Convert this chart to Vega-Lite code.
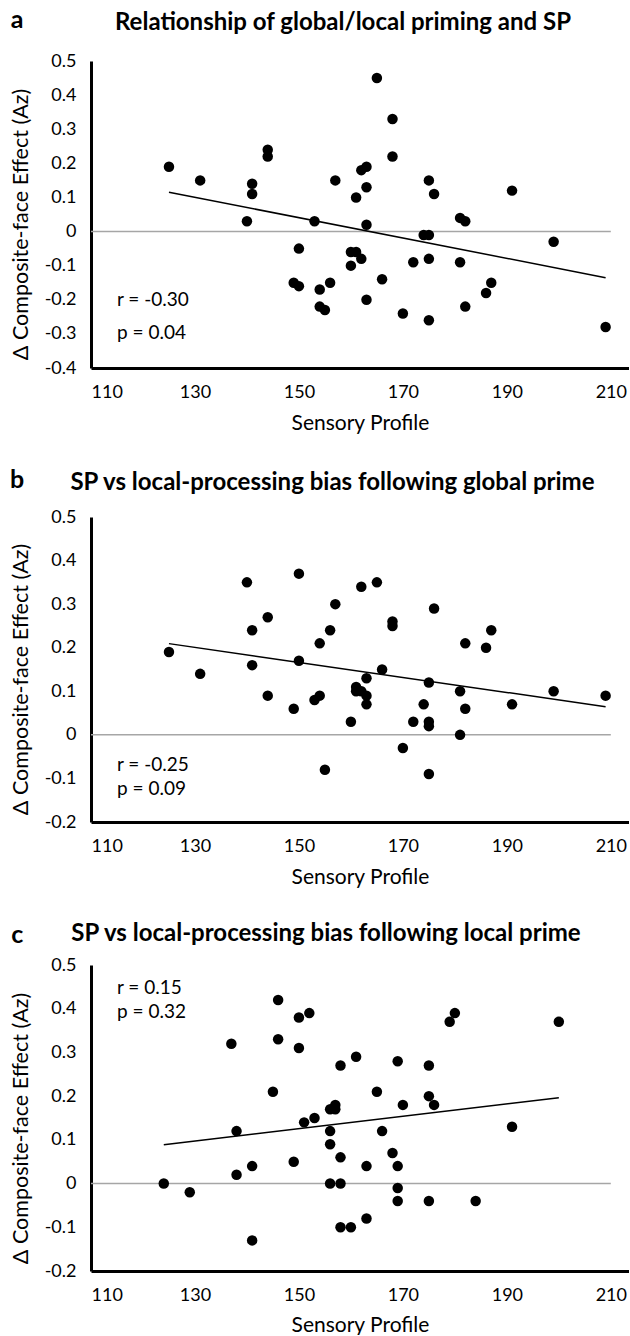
{
  "$schema": "https://vega.github.io/schema/vega-lite/v6.json",
  "background": "white",
  "padding": {"left": 10, "top": 8, "right": 0, "bottom": 0},
  "config": {
    "font": "Lato",
    "view": {"stroke": null},
    "concat": {"spacing": 35},
    "axis": {
      "grid": false, "ticks": false, "domainColor": "black", "domainWidth": 3,
      "labelColor": "black", "titleColor": "black", "labelFont": "Lato", "titleFont": "Lato",
      "labelFontSize": 18, "titleFontSize": 21, "titleFontWeight": "normal", "labelOverlap": false
    },
    "axisY": {"titleFontSize": 21.5, "labelOverlap": false, "labelSeparation": 0, "labelBound": false},
    "title": {"font": "Lato", "fontSize": 24, "fontWeight": "bold", "color": "black", "anchor": "middle"}
  },
  "datasets": {
    "one": [{}],
    "a": [
      {"sp":125,"effect":0.19},{"sp":131,"effect":0.15},{"sp":141,"effect":0.14},{"sp":141,"effect":0.11},
      {"sp":140,"effect":0.03},{"sp":144,"effect":0.24},{"sp":144,"effect":0.22},{"sp":150,"effect":-0.05},
      {"sp":149,"effect":-0.15},{"sp":150,"effect":-0.16},{"sp":165,"effect":0.45},{"sp":168,"effect":0.33},
      {"sp":168,"effect":0.22},{"sp":162,"effect":0.18},{"sp":163,"effect":0.19},{"sp":157,"effect":0.15},
      {"sp":163,"effect":0.13},{"sp":161,"effect":0.10},{"sp":153,"effect":0.03},{"sp":163,"effect":0.02},
      {"sp":175,"effect":0.15},{"sp":176,"effect":0.11},{"sp":191,"effect":0.12},{"sp":181,"effect":0.04},
      {"sp":182,"effect":0.03},{"sp":174,"effect":-0.01},{"sp":175,"effect":-0.01},{"sp":160,"effect":-0.06},
      {"sp":161,"effect":-0.06},{"sp":162,"effect":-0.08},{"sp":160,"effect":-0.10},{"sp":172,"effect":-0.09},
      {"sp":175,"effect":-0.08},{"sp":181,"effect":-0.09},{"sp":166,"effect":-0.14},{"sp":156,"effect":-0.15},
      {"sp":154,"effect":-0.17},{"sp":154,"effect":-0.22},{"sp":155,"effect":-0.23},{"sp":163,"effect":-0.20},
      {"sp":170,"effect":-0.24},{"sp":175,"effect":-0.26},{"sp":182,"effect":-0.22},{"sp":187,"effect":-0.15},
      {"sp":186,"effect":-0.18},{"sp":199,"effect":-0.03},{"sp":209,"effect":-0.28}
    ],
    "b": [
      {"sp":125,"effect":0.19},{"sp":131,"effect":0.14},{"sp":140,"effect":0.35},{"sp":141,"effect":0.24},
      {"sp":141,"effect":0.16},{"sp":144,"effect":0.27},{"sp":144,"effect":0.09},{"sp":149,"effect":0.06},
      {"sp":150,"effect":0.37},{"sp":150,"effect":0.17},{"sp":162,"effect":0.34},{"sp":165,"effect":0.35},
      {"sp":157,"effect":0.30},{"sp":156,"effect":0.24},{"sp":154,"effect":0.21},{"sp":168,"effect":0.26},
      {"sp":168,"effect":0.25},{"sp":176,"effect":0.29},{"sp":182,"effect":0.21},{"sp":187,"effect":0.24},
      {"sp":186,"effect":0.20},{"sp":166,"effect":0.15},{"sp":163,"effect":0.13},{"sp":175,"effect":0.12},
      {"sp":181,"effect":0.10},{"sp":191,"effect":0.07},{"sp":182,"effect":0.06},{"sp":174,"effect":0.07},
      {"sp":161,"effect":0.11},{"sp":161,"effect":0.10},{"sp":162,"effect":0.10},{"sp":163,"effect":0.09},
      {"sp":163,"effect":0.07},{"sp":153,"effect":0.08},{"sp":154,"effect":0.09},{"sp":160,"effect":0.03},
      {"sp":172,"effect":0.03},{"sp":175,"effect":0.03},{"sp":175,"effect":0.02},{"sp":181,"effect":0.00},
      {"sp":170,"effect":-0.03},{"sp":155,"effect":-0.08},{"sp":175,"effect":-0.09},{"sp":199,"effect":0.10},
      {"sp":209,"effect":0.09}
    ],
    "c": [
      {"sp":124,"effect":0.00},{"sp":129,"effect":-0.02},{"sp":137,"effect":0.32},{"sp":138,"effect":0.12},
      {"sp":138,"effect":0.02},{"sp":141,"effect":0.04},{"sp":141,"effect":-0.13},{"sp":145,"effect":0.21},
      {"sp":146,"effect":0.42},{"sp":146,"effect":0.33},{"sp":149,"effect":0.05},{"sp":150,"effect":0.38},
      {"sp":152,"effect":0.39},{"sp":150,"effect":0.31},{"sp":151,"effect":0.14},{"sp":153,"effect":0.15},
      {"sp":158,"effect":0.27},{"sp":161,"effect":0.29},{"sp":169,"effect":0.28},{"sp":175,"effect":0.27},
      {"sp":179,"effect":0.37},{"sp":180,"effect":0.39},{"sp":191,"effect":0.13},{"sp":165,"effect":0.21},
      {"sp":175,"effect":0.20},{"sp":176,"effect":0.18},{"sp":170,"effect":0.18},{"sp":156,"effect":0.17},
      {"sp":157,"effect":0.18},{"sp":157,"effect":0.17},{"sp":156,"effect":0.12},{"sp":156,"effect":0.09},
      {"sp":166,"effect":0.12},{"sp":158,"effect":0.06},{"sp":163,"effect":0.04},{"sp":168,"effect":0.07},
      {"sp":169,"effect":0.04},{"sp":156,"effect":0.00},{"sp":158,"effect":0.00},{"sp":169,"effect":-0.01},
      {"sp":169,"effect":-0.04},{"sp":175,"effect":-0.04},{"sp":184,"effect":-0.04},{"sp":163,"effect":-0.08},
      {"sp":158,"effect":-0.10},{"sp":160,"effect":-0.10},{"sp":200,"effect":0.37}
    ]
  },
  "vconcat": [
    {
      "width": 538, "height": 307,
      "title": {"text": "Relationship of global/local priming and SP", "offset": -26.5, "dx": -17},
      "layer": [
        {"data": {"name": "one"}, "mark": {"type": "rule", "color": "#a6a6a6", "strokeWidth": 1.5},
         "encoding": {
           "x": {"datum": 110, "type": "quantitative", "scale": {"domain": [110, 213.5], "nice": false, "zero": false},
                 "axis": {"title": "Sensory Profile", "values": [110,130,150,170,190,210], "labelPadding": 15, "titlePadding": 11}},
           "x2": {"datum": 210},
           "y": {"datum": 0, "type": "quantitative", "scale": {"domain": [-0.4, 0.5], "nice": false, "zero": false},
                 "axis": {"title": "Δ Composite-face Effect (Az)", "titleY": 163, "tickCount": 10, "labelOverlap": false, "values": [-0.4,-0.3,-0.2,-0.1,0,0.1,0.2,0.3,0.4,0.5], "labelExpr": "datum.value == 0 ? '0' : toString(round(datum.value*10)/10)", "labelPadding": 15, "titlePadding": 12}}}},
        {"data": {"name": "a"}, "mark": {"type": "circle", "size": 110, "color": "black", "opacity": 1},
         "encoding": {
           "x": {"field": "sp", "type": "quantitative", "axis": {"title": "Sensory Profile", "values": [110,130,150,170,190,210], "labelPadding": 15, "titlePadding": 11}},
           "y": {"field": "effect", "type": "quantitative", "axis": {"title": "Δ Composite-face Effect (Az)", "titleY": 163, "tickCount": 10, "labelOverlap": false, "values": [-0.4,-0.3,-0.2,-0.1,0,0.1,0.2,0.3,0.4,0.5], "labelExpr": "datum.value == 0 ? '0' : toString(round(datum.value*10)/10)", "labelPadding": 15, "titlePadding": 12}}}},
        {"data": {"name": "a"}, "transform": [{"regression": "effect", "on": "sp"}],
         "mark": {"type": "line", "color": "black", "strokeWidth": 1.5},
         "encoding": {"x": {"field": "sp", "type": "quantitative"}, "y": {"field": "effect", "type": "quantitative"}}},
        {"data": {"name": "one"}, "mark": {"type": "text", "align": "left", "baseline": "middle", "fontSize": 19, "lineHeight": 33, "color": "black"},
         "encoding": {"x": {"datum": 115}, "y": {"datum": -0.202}, "text": {"value": ["r = -0.30", "p = 0.04"]}}},
        {"data": {"name": "one"}, "mark": {"type": "text", "align": "center", "baseline": "middle", "fontSize": 25, "fontWeight": "bold", "color": "black"},
         "encoding": {"x": {"datum": 95.8}, "y": {"datum": 0.62}, "text": {"value": "a"}}}
      ]
    },
    {
      "width": 538, "height": 305,
      "title": {"text": "SP vs local-processing bias following global prime", "offset": -26.5, "dx": -27.5},
      "layer": [
        {"data": {"name": "one"}, "mark": {"type": "rule", "color": "#a6a6a6", "strokeWidth": 1.5},
         "encoding": {
           "x": {"datum": 110, "type": "quantitative", "scale": {"domain": [110, 213.5], "nice": false, "zero": false},
                 "axis": {"title": "Sensory Profile", "values": [110,130,150,170,190,210], "labelPadding": 15, "titlePadding": 11}},
           "x2": {"datum": 210},
           "y": {"datum": 0, "type": "quantitative", "scale": {"domain": [-0.2, 0.5], "nice": false, "zero": false},
                 "axis": {"title": "Δ Composite-face Effect (Az)", "titleY": 162, "labelOverlap": false, "values": [-0.2,-0.1,0,0.1,0.2,0.3,0.4,0.5], "labelExpr": "datum.value == 0 ? '0' : toString(round(datum.value*10)/10)", "labelPadding": 15, "titlePadding": 12}}}},
        {"data": {"name": "b"}, "mark": {"type": "circle", "size": 110, "color": "black", "opacity": 1},
         "encoding": {
           "x": {"field": "sp", "type": "quantitative", "axis": {"title": "Sensory Profile", "values": [110,130,150,170,190,210], "labelPadding": 15, "titlePadding": 11}},
           "y": {"field": "effect", "type": "quantitative", "axis": {"title": "Δ Composite-face Effect (Az)", "titleY": 162, "labelOverlap": false, "values": [-0.2,-0.1,0,0.1,0.2,0.3,0.4,0.5], "labelExpr": "datum.value == 0 ? '0' : toString(round(datum.value*10)/10)", "labelPadding": 15, "titlePadding": 12}}}},
        {"data": {"name": "b"}, "transform": [{"regression": "effect", "on": "sp"}],
         "mark": {"type": "line", "color": "black", "strokeWidth": 1.5},
         "encoding": {"x": {"field": "sp", "type": "quantitative"}, "y": {"field": "effect", "type": "quantitative"}}},
        {"data": {"name": "one"}, "mark": {"type": "text", "align": "left", "baseline": "middle", "fontSize": 19, "lineHeight": 24, "color": "black"},
         "encoding": {"x": {"datum": 115}, "y": {"datum": -0.069}, "text": {"value": ["r = -0.25", "p = 0.09"]}}},
        {"data": {"name": "one"}, "mark": {"type": "text", "align": "center", "baseline": "middle", "fontSize": 25, "fontWeight": "bold", "color": "black"},
         "encoding": {"x": {"datum": 95.8}, "y": {"datum": 0.584}, "text": {"value": "b"}}}
      ]
    },
    {
      "width": 538, "height": 306,
      "title": {"text": "SP vs local-processing bias following local prime", "offset": -23.5, "dx": -34},
      "layer": [
        {"data": {"name": "one"}, "mark": {"type": "rule", "color": "#a6a6a6", "strokeWidth": 1.5},
         "encoding": {
           "x": {"datum": 110, "type": "quantitative", "scale": {"domain": [110, 213.5], "nice": false, "zero": false},
                 "axis": {"title": "Sensory Profile", "values": [110,130,150,170,190,210], "labelPadding": 15, "titlePadding": 10}},
           "x2": {"datum": 210},
           "y": {"datum": 0, "type": "quantitative", "scale": {"domain": [-0.2, 0.5], "nice": false, "zero": false},
                 "axis": {"title": "Δ Composite-face Effect (Az)", "titleY": 163, "labelOverlap": false, "values": [-0.2,-0.1,0,0.1,0.2,0.3,0.4,0.5], "labelExpr": "datum.value == 0 ? '0' : toString(round(datum.value*10)/10)", "labelPadding": 15, "titlePadding": 12}}}},
        {"data": {"name": "c"}, "mark": {"type": "circle", "size": 110, "color": "black", "opacity": 1},
         "encoding": {
           "x": {"field": "sp", "type": "quantitative", "axis": {"title": "Sensory Profile", "values": [110,130,150,170,190,210], "labelPadding": 15, "titlePadding": 10}},
           "y": {"field": "effect", "type": "quantitative", "axis": {"title": "Δ Composite-face Effect (Az)", "titleY": 163, "labelOverlap": false, "values": [-0.2,-0.1,0,0.1,0.2,0.3,0.4,0.5], "labelExpr": "datum.value == 0 ? '0' : toString(round(datum.value*10)/10)", "labelPadding": 15, "titlePadding": 12}}}},
        {"data": {"name": "c"}, "transform": [{"regression": "effect", "on": "sp"}],
         "mark": {"type": "line", "color": "black", "strokeWidth": 1.5},
         "encoding": {"x": {"field": "sp", "type": "quantitative"}, "y": {"field": "effect", "type": "quantitative"}}},
        {"data": {"name": "one"}, "mark": {"type": "text", "align": "left", "baseline": "middle", "fontSize": 19, "lineHeight": 24, "color": "black"},
         "encoding": {"x": {"datum": 115}, "y": {"datum": 0.448}, "text": {"value": ["r = 0.15", "p = 0.32"]}}},
        {"data": {"name": "one"}, "mark": {"type": "text", "align": "center", "baseline": "middle", "fontSize": 25, "fontWeight": "bold", "color": "black"},
         "encoding": {"x": {"datum": 95.8}, "y": {"datum": 0.569}, "text": {"value": "c"}}}
      ]
    }
  ]
}
